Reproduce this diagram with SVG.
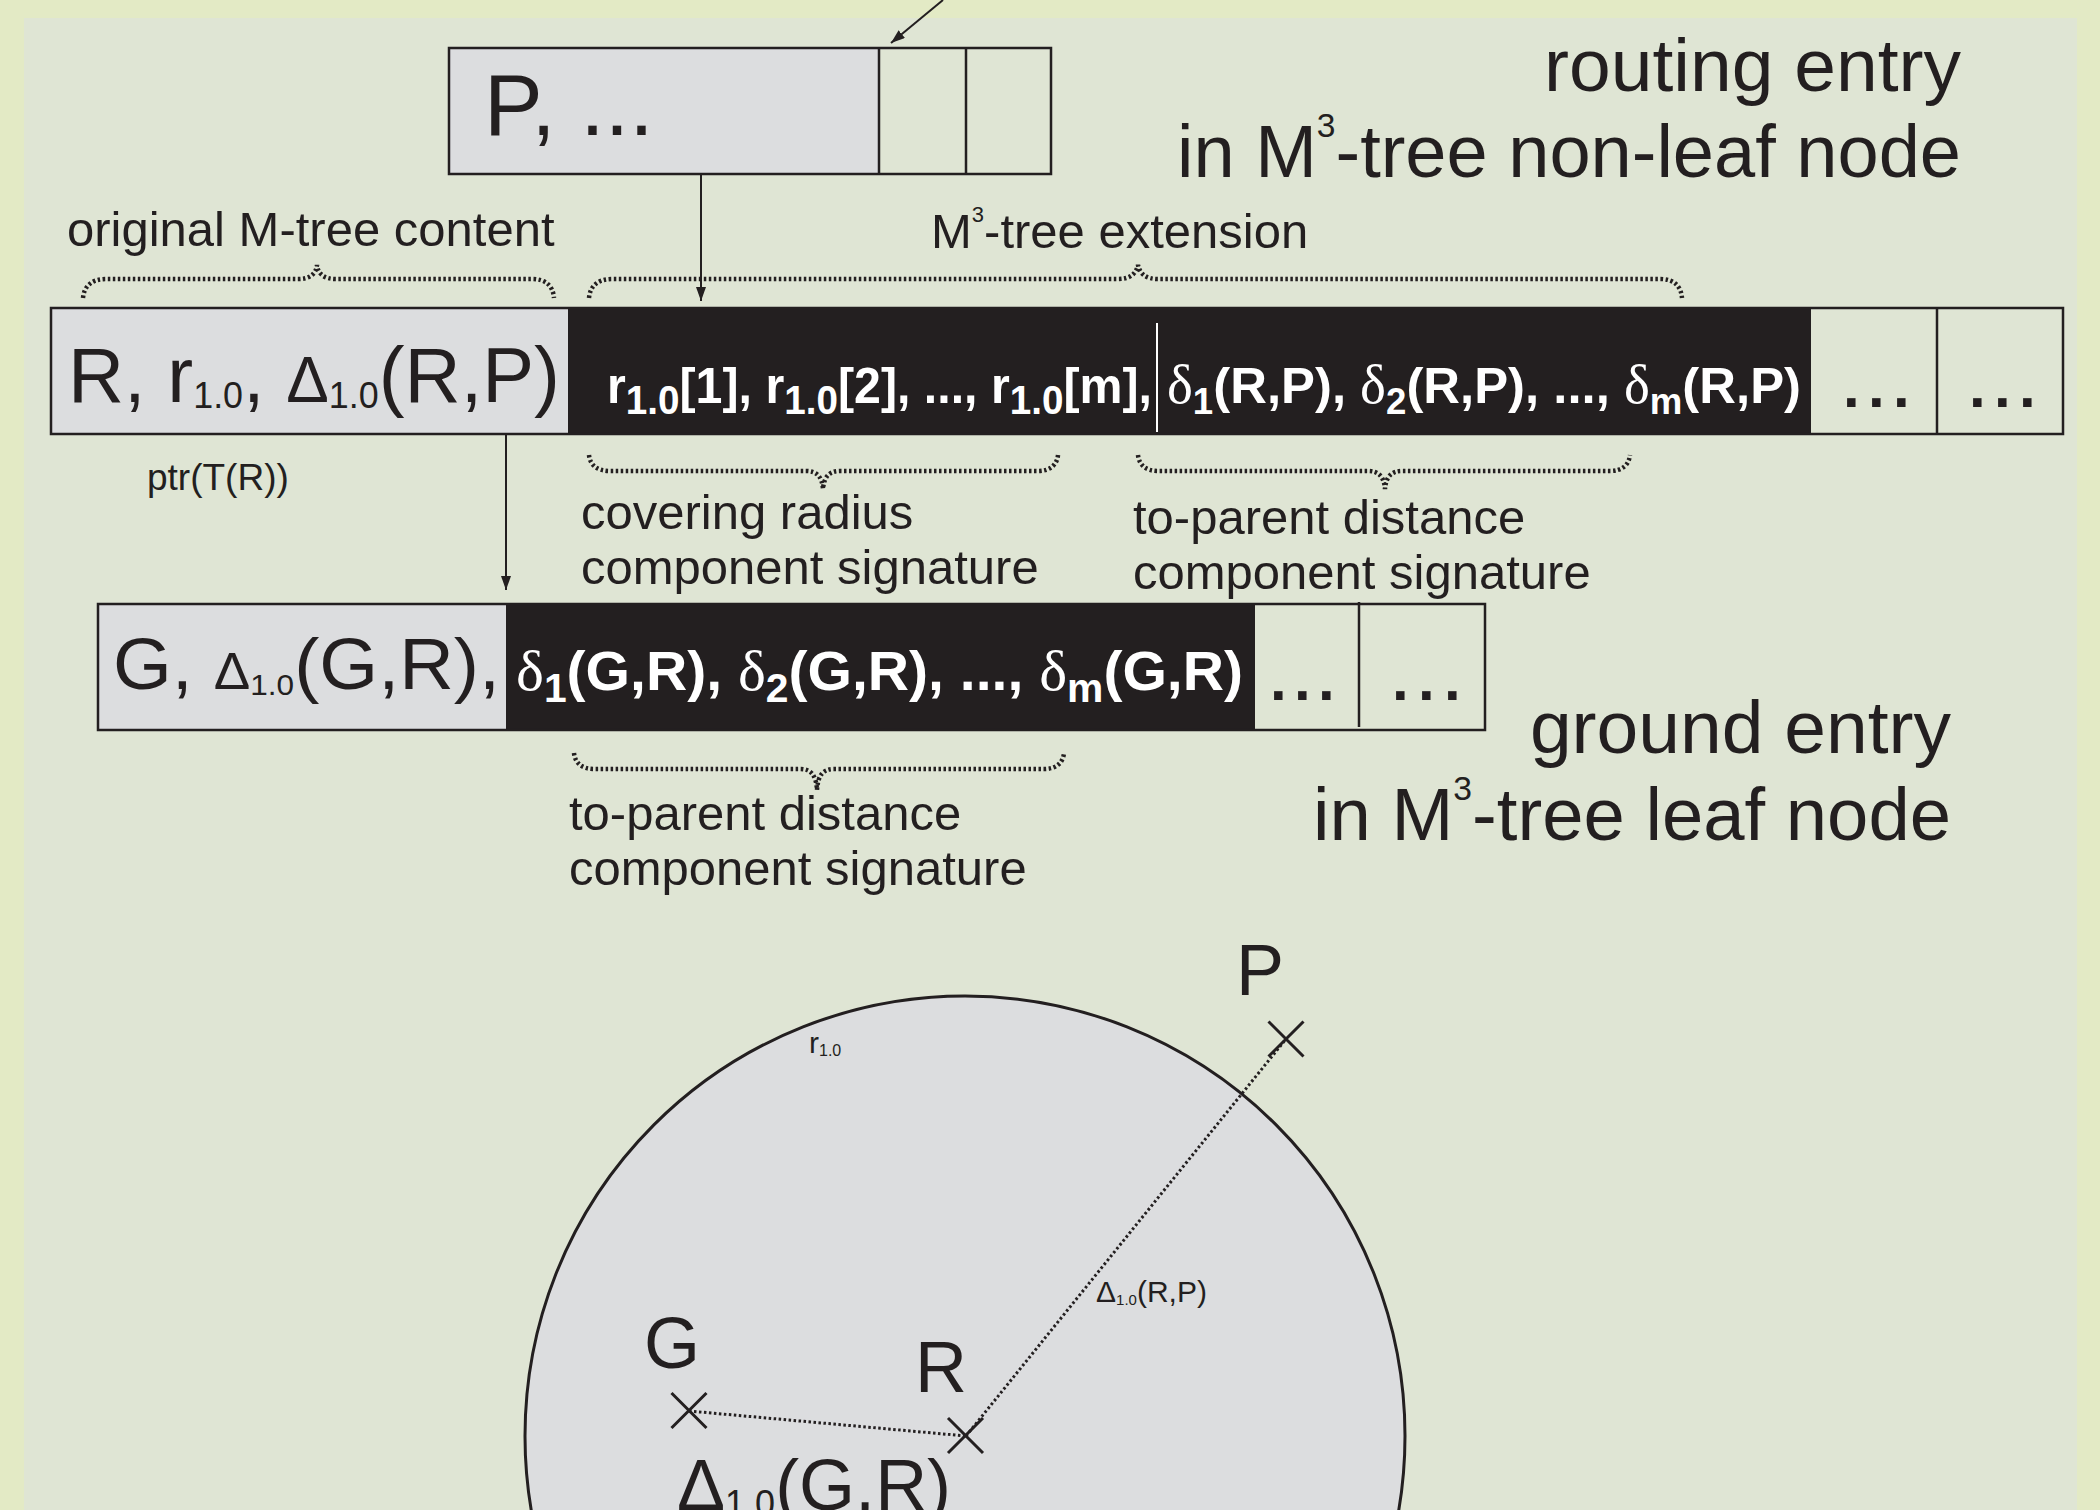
<svg xmlns="http://www.w3.org/2000/svg" width="2100" height="1510" viewBox="0 0 2100 1510">
  <defs>
    <marker id="head" markerUnits="userSpaceOnUse" viewBox="0 0 14 10" markerWidth="14" markerHeight="10" refX="14" refY="5" orient="auto">
      <path d="M0,0 L14,5 L0,10 z" fill="#231f20"/>
    </marker>
  </defs>
  <style>
    .t{font-family:"Liberation Sans",Arial,Helvetica,sans-serif;fill:#231f20}
    .w{font-family:"Liberation Sans",Arial,Helvetica,sans-serif;fill:#ffffff;font-weight:bold}
    .d{font-family:"Liberation Serif","Times New Roman",serif;font-weight:normal}
    .edge{fill:none;stroke:#231f20;stroke-width:2.5}
    .grey{fill:#dcdddf}
    .blk{fill:#231f20}
    .brace{fill:none;stroke:#231f20;stroke-width:4.5;stroke-dasharray:2.5 2.5}
    .link{fill:none;stroke:#231f20;stroke-width:2;marker-end:url(#head)}
    .dots{fill:none;stroke:#231f20;stroke-width:3;stroke-dasharray:2.5 2.5}
    .cross{fill:none;stroke:#231f20;stroke-width:3}
  </style>

  <!-- backdrop -->
  <rect x="0" y="0" width="2100" height="1510" fill="#e3eac5"/>
  <rect x="24" y="18" width="2053" height="1492" fill="#dfe5d4"/>

  <!-- parent entry -->
  <g id="parent-entry">
    <rect class="grey" x="449" y="48" width="430" height="126"/>
    <rect class="edge" x="449" y="48" width="602" height="126"/>
    <line class="edge" x1="879" y1="48" x2="879" y2="174"/>
    <line class="edge" x1="966" y1="48" x2="966" y2="174"/>
    <text class="t" x="484" y="135" font-size="88">P, ...</text>
  </g>

  <g id="routing-title">
    <text class="t" x="1961" y="91" font-size="75" text-anchor="end">routing entry</text>
    <text class="t" x="1961" y="177" font-size="75" text-anchor="end" textLength="784" lengthAdjust="spacingAndGlyphs">in M<tspan font-size="34" dy="-40">3</tspan><tspan dy="40">-tree non-leaf node</tspan></text>
  </g>

  <!-- braces above routing entry -->
  <g id="brace-original">
    <path class="brace" d="M83,298 C84,286 92,279 106,279 L298,279 C310,279 316,274 317,265 C318,274 324,279 336,279 L532,279 C546,279 553,286 554,298"/>
    <text class="t" x="67" y="246" font-size="49">original M-tree content</text>
  </g>
  <g id="brace-extension">
    <path class="brace" d="M589,298 C590,286 598,279 612,279 L1118,279 C1130,279 1136,274 1138,265 C1140,274 1146,279 1158,279 L1660,279 C1674,279 1681,286 1682,298"/>
    <text class="t" x="931" y="248" font-size="49">M<tspan font-size="22" dy="-26">3</tspan><tspan dy="26">-tree extension</tspan></text>
  </g>

  <!-- routing entry -->
  <g id="routing-entry">
    <rect class="grey" x="51" y="308" width="517" height="126"/>
    <rect class="blk" x="568" y="308" width="1243" height="126"/>
    <rect class="edge" x="51" y="308" width="2012" height="126"/>
    <line class="edge" x1="1937" y1="308" x2="1937" y2="434"/>
    <line x1="1157" y1="323" x2="1157" y2="432" stroke="#ffffff" stroke-width="2"/>
    <text class="t" x="68" y="402" font-size="78" textLength="492" lengthAdjust="spacingAndGlyphs">R, r<tspan font-size="36" dy="6">1.0</tspan><tspan dy="-6">, </tspan><tspan font-size="64">Δ</tspan><tspan font-size="36" dy="6">1.0</tspan><tspan dy="-6">(R,P)</tspan></text>
    <text class="w" x="607" y="403" font-size="50" textLength="545" lengthAdjust="spacingAndGlyphs">r<tspan font-size="40" dy="11">1.0</tspan><tspan dy="-11">[1], r</tspan><tspan font-size="40" dy="11">1.0</tspan><tspan dy="-11">[2], ..., r</tspan><tspan font-size="40" dy="11">1.0</tspan><tspan dy="-11">[m],</tspan></text>
    <text class="w" x="1167" y="403" font-size="50" textLength="634" lengthAdjust="spacingAndGlyphs"><tspan class="d" font-size="54">δ</tspan><tspan font-size="36" dy="11">1</tspan><tspan dy="-11">(R,P), </tspan><tspan class="d" font-size="54">δ</tspan><tspan font-size="36" dy="11">2</tspan><tspan dy="-11">(R,P), ..., </tspan><tspan class="d" font-size="54">δ</tspan><tspan font-size="36" dy="11">m</tspan><tspan dy="-11">(R,P)</tspan></text>
    <text class="t" x="1843 1868 1893" y="407" font-size="60" font-weight="bold">...</text>
    <text class="t" x="1969 1994 2019" y="407" font-size="60" font-weight="bold">...</text>
    <text class="t" x="147" y="490" font-size="37">ptr(T(R))</text>
  </g>

  <!-- braces below routing entry -->
  <g id="brace-covering">
    <path class="brace" d="M589,455 C590,465 597,471 610,471 L806,471 C817,471 822,477 823,489 C824,477 829,471 840,471 L1038,471 C1050,471 1057,465 1058,455"/>
    <text class="t" x="581" y="529" font-size="49">covering radius</text>
    <text class="t" x="581" y="584" font-size="49">component signature</text>
  </g>
  <g id="brace-parent-routing">
    <path class="brace" d="M1138,455 C1139,465 1146,471 1158,471 L1368,471 C1379,471 1384,477 1385,489 C1386,477 1391,471 1402,471 L1610,471 C1622,471 1629,465 1630,455"/>
    <text class="t" x="1133" y="534" font-size="49">to-parent distance</text>
    <text class="t" x="1133" y="589" font-size="49">component signature</text>
  </g>

  <!-- ground entry -->
  <g id="ground-entry">
    <rect class="grey" x="98" y="604" width="408" height="126"/>
    <rect class="blk" x="506" y="604" width="749" height="126"/>
    <rect class="edge" x="98" y="604" width="1387" height="126"/>
    <line class="edge" x1="1359" y1="602" x2="1359" y2="727"/>
    <text class="t" x="113" y="689" font-size="72" textLength="387" lengthAdjust="spacingAndGlyphs">G, <tspan font-size="52">Δ</tspan><tspan font-size="30" dy="6">1.0</tspan><tspan dy="-6">(G,R),</tspan></text>
    <text class="w" x="516" y="690" font-size="56" textLength="727" lengthAdjust="spacingAndGlyphs"><tspan class="d" font-size="58">δ</tspan><tspan font-size="40" dy="12">1</tspan><tspan dy="-12">(G,R), </tspan><tspan class="d" font-size="58">δ</tspan><tspan font-size="40" dy="12">2</tspan><tspan dy="-12">(G,R), ..., </tspan><tspan class="d" font-size="58">δ</tspan><tspan font-size="40" dy="12">m</tspan><tspan dy="-12">(G,R)</tspan></text>
    <text class="t" x="1270 1294 1318" y="700" font-size="60" font-weight="bold">...</text>
    <text class="t" x="1392 1418 1444" y="700" font-size="60" font-weight="bold">...</text>
  </g>

  <g id="ground-title">
    <text class="t" x="1951" y="753" font-size="75" text-anchor="end">ground entry</text>
    <text class="t" x="1951" y="840" font-size="75" text-anchor="end" textLength="638" lengthAdjust="spacingAndGlyphs">in M<tspan font-size="34" dy="-40">3</tspan><tspan dy="40">-tree leaf node</tspan></text>
  </g>

  <g id="brace-parent-ground">
    <path class="brace" d="M574,753 C575,763 582,769 594,769 L800,769 C811,769 816,775 817,790 C818,775 823,769 834,769 L1044,769 C1056,769 1063,763 1064,753"/>
    <text class="t" x="569" y="830" font-size="49">to-parent distance</text>
    <text class="t" x="569" y="885" font-size="49">component signature</text>
  </g>

  <!-- connectors -->
  <g id="connectors">
    <line class="link" x1="943" y1="0" x2="891" y2="43"/>
    <line class="link" x1="701" y1="174" x2="701" y2="301"/>
    <line class="link" x1="506" y1="434" x2="506" y2="590"/>
  </g>

  <!-- covering region of R -->
  <g id="ball">
    <circle cx="965" cy="1436" r="440" fill="#dcdddf" stroke="#231f20" stroke-width="3"/>
    <text class="t" x="809" y="1053" font-size="30">r<tspan font-size="16" dy="3">1.0</tspan></text>
    <path class="dots" d="M689,1411 L966,1436"/>
    <path class="dots" d="M966,1436 L1286,1039" stroke-width="2.5"/>
    <text class="t" x="1096" y="1302" font-size="30">Δ<tspan font-size="15" dy="3">1.0</tspan><tspan dy="-3">(R,P)</tspan></text>
    <text class="t" x="677" y="1510" font-size="72">Δ<tspan font-size="36" dy="6">1.0</tspan><tspan dy="-6">(G,R)</tspan></text>
  </g>
  <g id="point-P">
    <path class="cross" d="M1268.5,1021.5 L1303.5,1056.5 M1303.5,1021.5 L1268.5,1056.5"/>
    <text class="t" x="1236" y="995" font-size="72">P</text>
  </g>
  <g id="point-G">
    <path class="cross" d="M671.5,1393 L706.5,1428 M706.5,1393 L671.5,1428"/>
    <text class="t" x="644" y="1368" font-size="72">G</text>
  </g>
  <g id="point-R">
    <path class="cross" d="M948,1418 L983,1453 M983,1418 L948,1453"/>
    <text class="t" x="915" y="1392" font-size="72">R</text>
  </g>
</svg>
